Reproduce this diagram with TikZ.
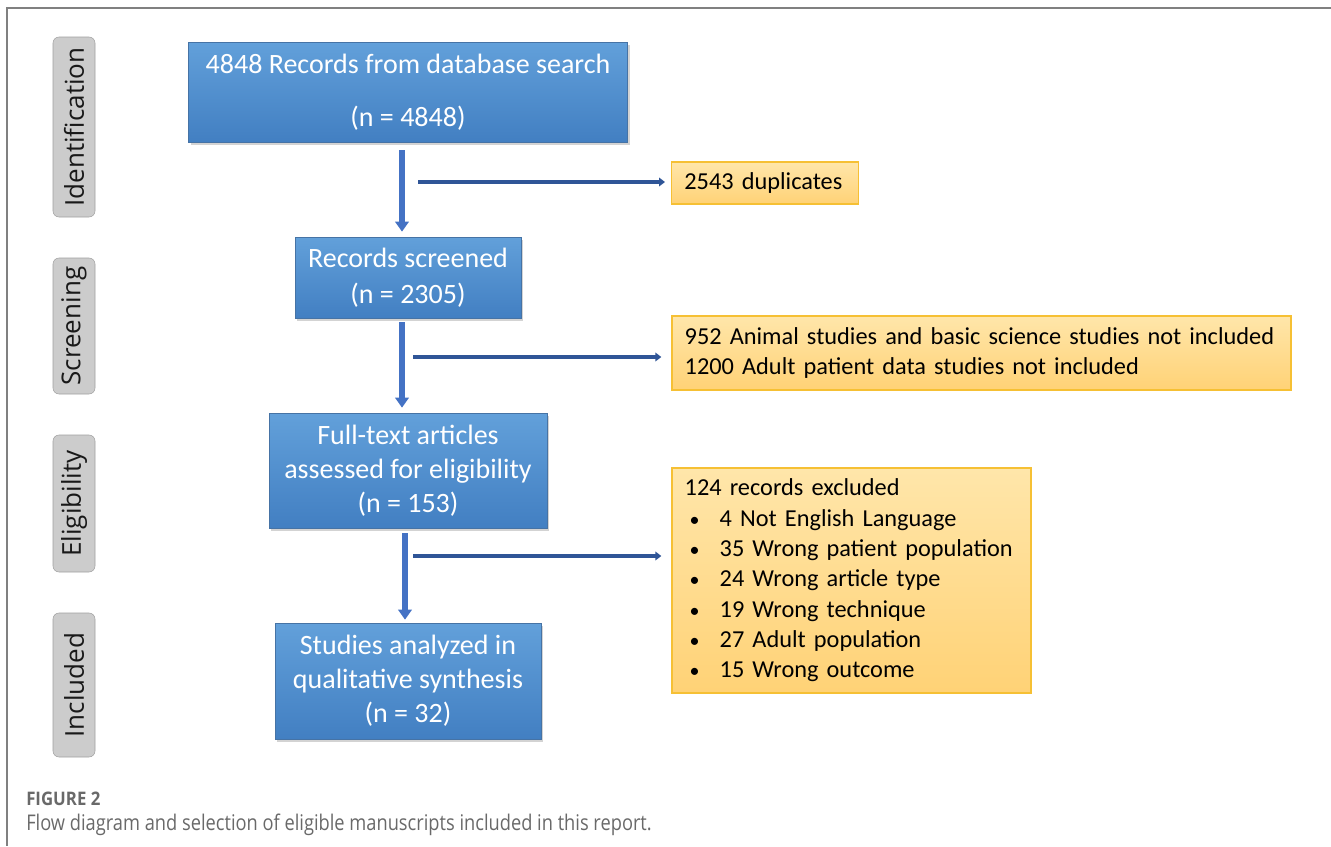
\documentclass[tikz,border=0pt]{standalone}
\usepackage{xcolor}
\usepackage{fontspec}
\setmainfont{Carlito}
\newfontfamily\sidefont{Open Sans}
\newfontfamily\capfont[FakeStretch=0.845]{Open Sans}
\newfontfamily\figfont[FakeStretch=0.9]{Open Sans}
\usepackage{tikz}
\usetikzlibrary{arrows.meta, positioning, shadows}
\definecolor{boxblue}{RGB}{98,160,218}
\definecolor{boxbluedark}{RGB}{66,127,194}
\definecolor{boxedge}{RGB}{70,115,165}
\definecolor{arrowblue}{RGB}{68,114,196}
\definecolor{linkblue}{RGB}{47,85,151}
\definecolor{exclfill}{RGB}{255,230,170}
\definecolor{exclfilldark}{RGB}{255,210,118}
\definecolor{excledge}{RGB}{246,192,52}
\definecolor{stagegray}{RGB}{204,204,204}
\definecolor{framegray}{RGB}{128,128,128}
\definecolor{captiongray}{RGB}{105,105,105}
\newcommand{\exclitem}{\makebox[26.25pt][l]{\hspace{3.75pt}{\fontsize{15}{15}\selectfont\textbullet}}}

\begin{document}
\begin{tikzpicture}[
    x=0.75pt, y=-0.75pt,
    stage/.style={draw=gray!75, fill=stagegray, rounded corners=4.5pt, rotate=90,
                  minimum height=31.5pt, inner sep=0pt, text=black!90,
                  font=\sidefont\fontsize{19.5}{21}\selectfont},
    flowbox/.style={draw=boxedge, line width=0.5pt, top color=boxblue, bottom color=boxbluedark,
                    text=white, align=center, inner sep=0pt, font=\fontsize{21}{25.5}\selectfont,
                    drop shadow={opacity=0.35, shadow xshift=1.5pt, shadow yshift=-2pt}},
    exclbox/.style={draw=excledge, line width=1pt, top color=exclfill, bottom color=exclfilldark,
                    align=left, inner xsep=9.5pt, inner ysep=0pt,
                    font=\fontsize{18.25}{22.75}\selectfont},
    downarrow/.style={-{Triangle[width=10pt,length=7.5pt]}, line width=4.5pt, draw=arrowblue},
    sidearrow/.style={-{Triangle[width=6.5pt,length=4.5pt]}, line width=2.6pt, draw=linkblue},
    caption/.style={anchor=base west, inner sep=0pt, text=captiongray}
]
\useasboundingbox (0,0) rectangle (1331,846);
\draw[framegray, line width=1.5pt] (1331,8) -- (7,8) -- (7,846);

\node[stage, minimum width=135pt]    (idn) at (74,127)   {Identification};
\node[stage, minimum width=102pt]    (scr) at (74,326)   {Screening};
\node[stage, minimum width=102.75pt] (elg) at (74,503.5) {Eligibility};
\node[stage, minimum width=108pt]    (inc) at (74,685)   {Included};

\node[flowbox, minimum width=329.25pt, minimum height=75pt]  (rec)  at (408,92)    {4848 Records from database search\\[14.6pt](n = 4848)};
\node[flowbox, minimum width=169.5pt, minimum height=60.75pt] (scrn) at (408,277.5) {Records screened\\[1.5pt](n = 2305)};
\node[flowbox, minimum width=208.5pt, minimum height=86.25pt] (full) at (408,470.5) {Full-text articles\\assessed for eligibility\\(n = 153)};
\node[flowbox, minimum width=199.5pt, minimum height=87pt]    (incl) at (408,681)   {Studies analyzed in\\qualitative synthesis\\(n = 32)};

\node[exclbox, text width=121pt, minimum height=31.5pt]    (dup) at (765,183)   {2543 duplicates};
\node[exclbox, text width=445.25pt, minimum height=55.5pt] (scx) at (981.5,353) {952 Animal studies and basic science studies not included\\1200 Adult patient data studies not included};
\node[exclbox, text width=250.25pt, minimum height=168.75pt] (exc) at (851.5,580.5) {124 records excluded\\
\exclitem 4 Not English Language\\
\exclitem 35 Wrong patient population\\
\exclitem 24 Wrong article type\\
\exclitem 19 Wrong technique\\
\exclitem 27 Adult population\\
\exclitem 15 Wrong outcome};

\draw[downarrow, shorten <=6pt, shorten >=3.75pt] ([xshift=-4.5pt]rec.south) -- ([xshift=-4.5pt]scrn.north);
\draw[downarrow, shorten <=3pt, shorten >=3.75pt] ([xshift=-4.5pt]scrn.south) -- ([xshift=-4.5pt]full.north);
\draw[downarrow, shorten <=3.75pt, shorten >=2.25pt] ([xshift=-2.25pt]full.south) -- ([xshift=-2.25pt]incl.north);

\coordinate (d1) at (418,182);
\coordinate (d2) at (413,357);
\coordinate (d3) at (413,556);
\draw[sidearrow, shorten >=4.5pt] (d1) -- (d1 -| dup.west);
\draw[sidearrow, shorten >=7.5pt] (d2) -- (d2 -| scx.west);
\draw[sidearrow, shorten >=7.5pt] (d3) -- (d3 -| exc.west);

\node[caption, font=\figfont\bfseries\fontsize{14}{16}\selectfont] (fig) at (26,805) {FIGURE 2};
\node[caption, font=\capfont\fontsize{16.2}{19}\selectfont] (cap) at (26,830) {Flow diagram and selection of eligible manuscripts included in this report.};
\end{tikzpicture}
\end{document}
